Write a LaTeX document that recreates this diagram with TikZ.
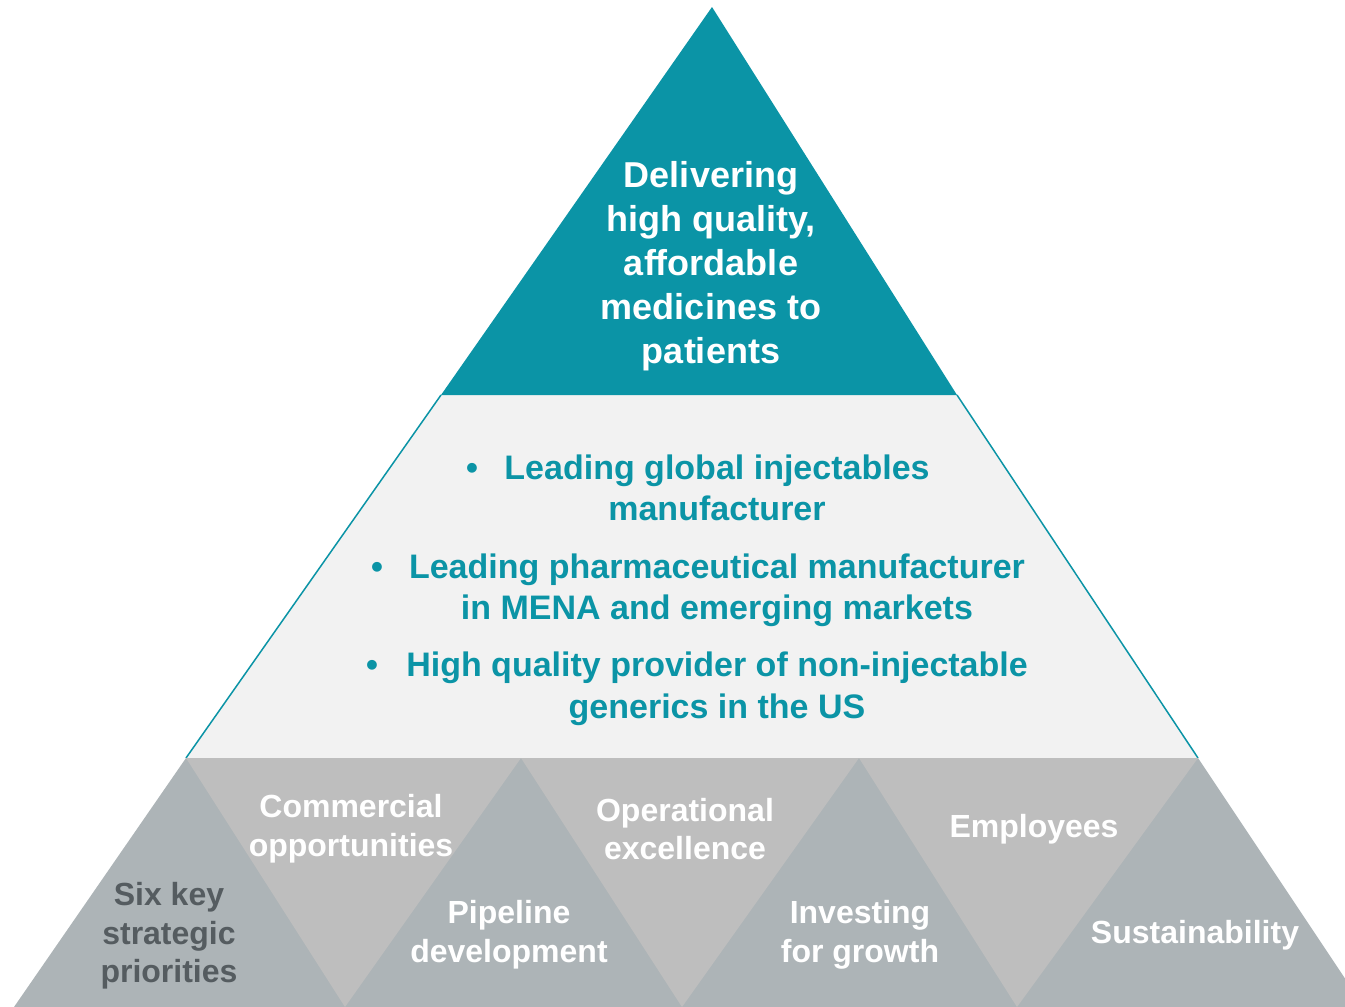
\documentclass[tikz,border=0pt]{standalone}
\usepackage{fontspec}
\setmainfont{Liberation Sans}
\definecolor{pteal}{HTML}{0B94A6}
\definecolor{midbg}{HTML}{F2F2F2}
\definecolor{upgray}{HTML}{ADB4B7}
\definecolor{downgray}{HTML}{BEBEBE}
\definecolor{darktext}{HTML}{555C60}
\begin{document}
\begin{tikzpicture}[x=1pt,y=-1pt,
  toptxt/.style={inner sep=0pt, anchor=base, text=white, font=\bfseries\fontsize{36}{44}\selectfont},
  midtxt/.style={inner sep=0pt, anchor=base, text=pteal, font=\bfseries\fontsize{34}{41}\selectfont},
  bottxt/.style={inner sep=0pt, anchor=base, text=white, font=\bfseries\fontsize{32}{39}\selectfont},
  darktxt/.style={bottxt, text=darktext},
  edge/.style={draw=pteal, line width=1.5pt}]
\useasboundingbox (0,0) rectangle (1345,1007);
\clip (0,0) rectangle (1345,1007);
% key points
\coordinate (apex) at (712,7);
\coordinate (tl) at (441,395);
\coordinate (tr) at (957,395);
\coordinate (A0) at (186,758);
\coordinate (A1) at (521,758);
\coordinate (A2) at (859,758);
\coordinate (A3) at (1198,758);
\coordinate (B0) at (14,1007);
\coordinate (B1) at (345,1007);
\coordinate (B2) at (682,1007);
\coordinate (B3) at (1017,1007);
\coordinate (B4) at (1364,1007);
% middle band
\fill[midbg] (tl) -- (tr) -- (A3) -- (A0) -- cycle;
\draw[edge] (tl) -- (A0);
\draw[edge] (tr) -- (A3);
% top triangle
\fill[pteal] (apex) -- (tr) -- (tl) -- cycle;
% bottom row
\fill[upgray] (B0) -- (A0) -- (A3) -- (B4) -- cycle;
\fill[downgray] (A0) -- (A1) -- (B1) -- cycle;
\fill[downgray] (A1) -- (A2) -- (B2) -- cycle;
\fill[downgray] (A2) -- (A3) -- (B3) -- cycle;
% top text
\node[toptxt] (t1) at (711,187) {Delivering};
\node[toptxt] (t2) at (711,231) {high quality,};
\node[toptxt] (t3) at (711,275) {affordable};
\node[toptxt] (t4) at (711,319) {medicines to};
\node[toptxt] (t5) at (711,363) {patients};
% middle text
\node[midtxt] (m1) at (717,479) {Leading global injectables};
\node[midtxt] (m2) at (717,520) {manufacturer};
\node[midtxt] (m3) at (717,578) {Leading pharmaceutical manufacturer};
\node[midtxt] (m4) at (717,619) {in MENA and emerging markets};
\node[midtxt] (m5) at (717,676) {High quality provider of non-injectable};
\node[midtxt] (m6) at (717,718) {generics in the US};
\node[midtxt] (d1) at (472,479) {•};
\node[midtxt] (d2) at (377,578) {•};
\node[midtxt] (d3) at (372,676) {•};
% bottom labels
\node[bottxt] (c1) at (351,817) {Commercial};
\node[bottxt] (c2) at (351,856) {opportunities};
\node[bottxt] (o1) at (685,821) {Operational};
\node[bottxt] (o2) at (685,859) {excellence};
\node[bottxt] (e1) at (1034,837) {Employees};
\node[darktxt] (s1) at (169,905) {Six key};
\node[darktxt] (s2) at (169,944) {strategic};
\node[darktxt] (s3) at (169,982) {priorities};
\node[bottxt] (p1) at (509,923) {Pipeline};
\node[bottxt] (p2) at (509,962) {development};
\node[bottxt] (i1) at (860,923) {Investing};
\node[bottxt] (i2) at (860,962) {for growth};
\node[bottxt] (su) at (1195,943) {Sustainability};
\end{tikzpicture}
\end{document}
